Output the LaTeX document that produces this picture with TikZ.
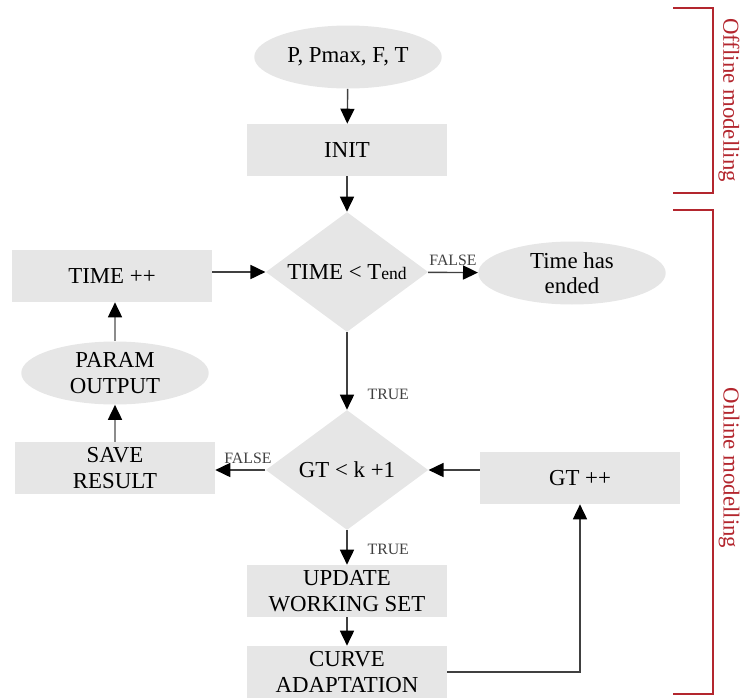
\documentclass[tikz,border=0pt]{standalone}
\usepackage{fontspec}
\setmainfont{Liberation Serif}
\usetikzlibrary{shapes.geometric,arrows.meta}
\definecolor{boxgray}{HTML}{E6E6E6}
\definecolor{phasered}{HTML}{B3262E}

\begin{document}
\begin{tikzpicture}[x=0.02cm, y=-0.02cm,
    font=\fontsize{13}{14.5}\selectfont,
    box/.style={fill=boxgray, minimum width=4cm, minimum height=1.04cm, inner sep=0pt, align=center},
    term/.style={ellipse, fill=boxgray, minimum width=3.75cm, minimum height=1.26cm, inner sep=0pt, align=center},
    test/.style={diamond, aspect=1.4, fill=boxgray, minimum width=3.25cm, minimum height=2.4cm, inner sep=0pt, align=center},
    flow/.style={-{Triangle[length=8.5pt,width=8pt,color=black]}, line width=0.8pt, black!75},
    flowlight/.style={flow, black!45},
    tag/.style={font=\fontsize{9}{9}\selectfont}]
    \useasboundingbox (0,0) rectangle (740,697);

    % Offline part
    \node[term] (inp) at (348, 57) {P, Pmax, F, T};
    \node[box] (init) at (347, 150) {INIT};

    % Time loop
    \node[test] (tcheck) at (347, 272) {TIME < T{\fontsize{10}{10}\selectfont end}};
    \node[term] (tend) at (572, 273) {Time has\\ended};
    \node[box] (tinc) at (112, 276) {TIME ++};

    % GT loop
    \node[test] (gcheck) at (347, 470) {GT < k +1};
    \node[box] (ginc) at (580, 478) {GT ++};
    \node[box] (save) at (115, 468) {SAVE\\RESULT};
    \node[term] (param) at (115, 373) {PARAM\\OUTPUT};
    \node[box] (update) at (347, 591) {UPDATE\\WORKING SET};
    \node[box] (curve) at (347, 672) {CURVE\\ADAPTATION};

    % Main connections
    \draw[flow] (inp) -- (init);
    \draw[flow] (init) -- (tcheck);
    \draw[flow] (tcheck) -- node[tag, above] {FALSE} (tend);
    \draw[flow] (tcheck) -- node[tag, right, pos=0.8, xshift=8pt] {TRUE} (gcheck);
    \draw[flow] (gcheck) -- node[tag, right, pos=0.55, xshift=8pt] {TRUE} (update);
    \draw[flow] (update) -- (curve);
    \draw[flow] (curve.east) -| (ginc);
    \draw[flow] (ginc.west |- gcheck) -- (gcheck);
    \draw[flow] (gcheck) -- node[tag, above, pos=0.35] {FALSE} (save.east |- gcheck);

    % Back to the time loop
    \draw[flowlight] (save) -- (param);
    \draw[flowlight] (param) -- (param |- tinc.south);
    \draw[flow] (tinc.east |- tcheck) -- (tcheck);

    % Phase brackets
    \draw[phasered, line width=0.6pt] (673, 8) -| (713, 193) -- (673, 193);
    \node[rotate=-90, text=phasered] (offl) at (729, 100) {Offline modelling};
    \draw[phasered, line width=0.6pt] (673, 210) -| (713, 694) -- (673, 694);
    \node[rotate=-90, text=phasered] (onl) at (729, 468) {Online modelling};
\end{tikzpicture}
\end{document}
